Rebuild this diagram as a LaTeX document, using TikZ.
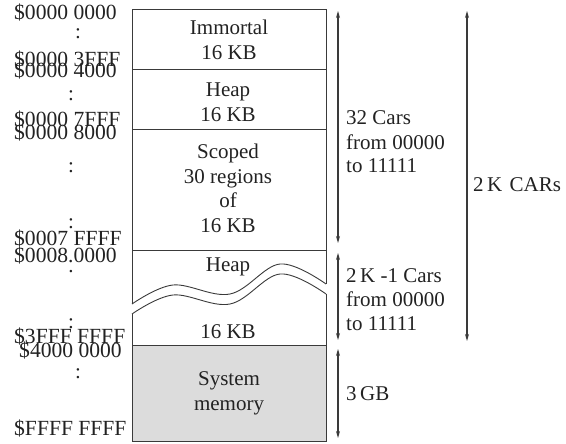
\documentclass[tikz,border=0pt]{standalone}
\usepackage{fontspec}
\setmainfont{Liberation Serif}
\usetikzlibrary{arrows.meta}
\definecolor{linecol}{HTML}{3A3A3A}
\definecolor{textcol}{HTML}{222222}
\definecolor{memgray}{HTML}{DCDCDC}
\tikzset{
  lbl/.style={inner sep=0pt, text=textcol, font=\fontsize{21}{25}\selectfont},
  addr/.style={lbl, anchor=base west, font=\fontsize{21.6}{25}\selectfont},
  colon/.style={lbl, anchor=center},
  boxtxt/.style={lbl, anchor=base, align=center},
  sidetxt/.style={lbl, anchor=base west, align=left},
  boxline/.style={draw=linecol, line width=0.9pt},
  span/.style={draw=linecol, line width=1.1pt, {Stealth[length=7pt,width=4pt]}-{Stealth[length=7pt,width=4pt]}}
}
\begin{document}
\begin{tikzpicture}[x=1pt,y=-1pt]
\useasboundingbox (0,0) rectangle (566,444);

% corner coordinates of the memory column
\coordinate (tl) at (132,9);
\coordinate (tr) at (326,9);
\coordinate (bl) at (132,441);
\coordinate (br) at (326,441);
\coordinate (wul) at (132,304);
\coordinate (wur) at (326,284);
\coordinate (wll) at (132,314);
\coordinate (wlr) at (326,294);
\coordinate (sysl) at (132,345);
\coordinate (sysr) at (326,345);

% system memory fill
\fill[memgray] (sysl) rectangle (br);

% outline, broken by the wave
\draw[boxline] (wul) -- (tl) -- (tr) -- (wur);
\draw[boxline] (wll) -- (bl) -- (br) -- (wlr);
\draw[boxline] (wul) plot[smooth, tension=0.6] coordinates {(132,304) (173,285) (230,294) (280,264) (326,284)};
\draw[boxline] (wll) plot[smooth, tension=0.6] coordinates {(132,314) (173,295) (230,304) (280,274) (326,294)};

% dividers
\coordinate (d1l) at (132,69);  \coordinate (d1r) at (326,69);
\coordinate (d2l) at (132,129); \coordinate (d2r) at (326,129);
\coordinate (d3l) at (132,250); \coordinate (d3r) at (326,250);
\draw[boxline] (d1l) -- (d1r);
\draw[boxline] (d2l) -- (d2r);
\draw[boxline] (d3l) -- (d3r);
\draw[boxline] (sysl) -- (sysr);

% texts inside the column (anchor = baseline of last line)
\node[boxtxt] (imm) at (229,60) {Immortal\\16 KB};
\node[boxtxt] (heap1) at (228,122) {Heap\\16 KB};
\node[boxtxt] (scoped) at (228,233) {Scoped\\30 regions\\of\\16 KB};
\node[boxtxt] (heap2) at (228,272) {Heap};
\node[boxtxt] (kb2) at (228,338) {16 KB};
\node[boxtxt] (sys) at (229,410) {System\\memory};

% addresses
\node[addr] (a1) at (14,20) {\$0000 0000};
\node[colon] (c1) at (78,34) {:};
\node[addr] (a2) at (14,67) {\$0000 3FFF};
\node[addr] (a3) at (14,78) {\$0000 4000};
\node[colon] (c2) at (71,96) {:};
\node[addr] (a4) at (14,127) {\$0000 7FFF};
\node[addr] (a5) at (14,140) {\$0000 8000};
\node[colon] (c3) at (71,168) {:};
\node[colon] (c4) at (71,224) {:};
\node[addr] (a6) at (14,245) {\$0007 FFFF};
\node[addr] (a7) at (14,262) {\$0008.0000};
\node[colon] (c5) at (71,272) {.};
\node[colon] (c6) at (71,324) {:};
\node[addr] (a8) at (14,343) {\$3FFF FFFF};
\node[addr] (a9) at (19,357) {\$4000 0000};
\node[colon] (c7) at (78,374) {:};
\node[addr] (a10) at (14,435) {\$FFFF FFFF};

% span arrows
\coordinate (s1t) at (338,11);  \coordinate (s1b) at (338,243);
\coordinate (s2t) at (338,253); \coordinate (s2b) at (338,340);
\coordinate (s3t) at (338,349); \coordinate (s3b) at (338,438);
\coordinate (s4t) at (467,11);  \coordinate (s4b) at (467,341);
\draw[span] (s1t) -- (s1b);
\draw[span] (s2t) -- (s2b);
\draw[span] (s3t) -- (s3b);
\draw[span] (s4t) -- (s4b);

% side labels (anchor = baseline of last line)
\node[sidetxt] (l1) at (346,173) {32 Cars\\[-1pt]from 00000\\[-1pt]to 11111};
\node[sidetxt] (l2) at (346,330) {2\,K -1 Cars\\[-1pt]from 00000\\[-1pt]to 11111};
\node[sidetxt] (l3) at (346,400) {3\,GB};
\node[sidetxt] (l4) at (473,192) {2\,K\hspace{0.35em}CARs};
\end{tikzpicture}
\end{document}
